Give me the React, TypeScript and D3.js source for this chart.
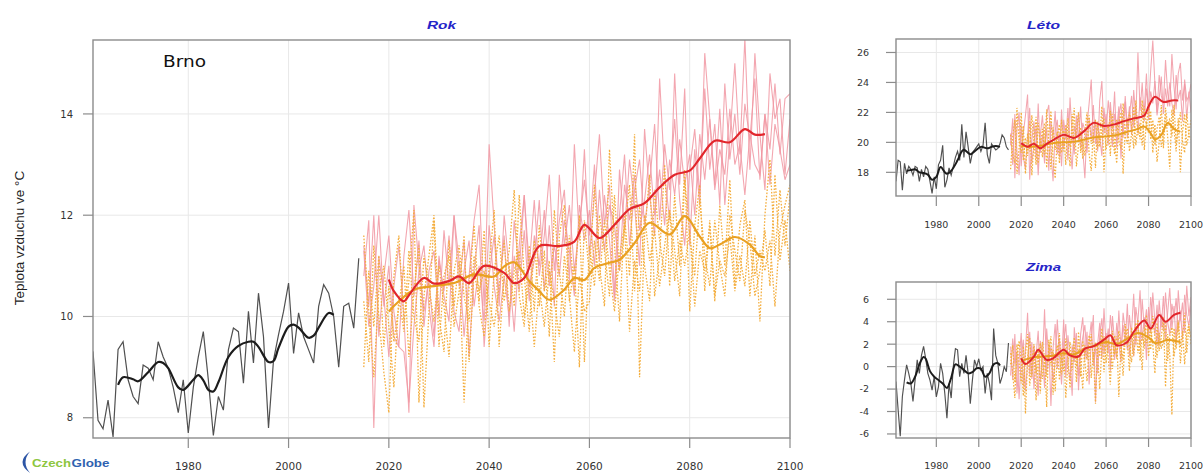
import React from 'react';
import * as d3 from 'd3';

type Pt = [number, number];

const OBS_START = 1961;
const PROJ_START = 2015;
const X_DOMAIN: [number, number] = [1961, 2100];
const X_TICKS = [1980, 2000, 2020, 2040, 2060, 2080, 2100];

// ---------- Rok (annual mean) ----------
const rokObs = [
  9.31, 7.95, 7.78, 8.35, 7.62, 9.35, 9.5, 8.75, 8.42, 8.28,
  9.04, 8.98, 8.75, 9.5, 9.2, 8.98, 8.6, 8.1, 8.75, 7.7,
  8.6, 9.2, 9.7, 8.75, 7.65, 8.42, 8.15, 9.34, 9.77, 9.7,
  8.68, 10.1, 9.08, 10.46, 9.6, 7.8, 9.14, 9.64, 10.1, 10.66,
  9.27, 10.07, 9.6, 9.34, 9.08, 10.2, 10.63, 10.46, 10.0, 9.0,
  10.2, 10.26, 9.77, 11.15,
];
const rokObsSmooth: Pt[] = [
  [1966, 8.65], [1967, 8.8], [1969, 8.76], [1970, 8.72], [1972, 8.9], [1974, 9.1], [1975, 9.08],
  [1976, 8.98], [1978, 8.6], [1979, 8.55], [1981, 8.75], [1982, 8.84], [1983, 8.74], [1984, 8.55],
  [1985, 8.52], [1986, 8.7], [1988, 9.2], [1990, 9.42], [1992, 9.5], [1993, 9.5], [1994, 9.4],
  [1996, 9.1], [1997, 9.12], [1998, 9.38], [2000, 9.8], [2001, 9.84], [2002, 9.78], [2004, 9.58],
  [2005, 9.62], [2006, 9.78], [2008, 10.07], [2009, 10.03],
];
const rokPink1 = [
  11.4, 10.2, 12.0, 9.6, 10.8,
  11.6, 10.1, 9.4, 11.2, 12.1, 10.4, 11.5, 9.8, 10.9, 11.3,
  10.0, 11.7, 10.6, 12.0, 11.1, 9.6, 10.8, 11.9, 12.6, 10.2,
  13.4, 11.8, 10.4, 11.6, 9.8, 11.9, 10.9, 12.4, 11.0, 12.3,
  10.8, 11.6, 12.8, 10.9, 11.9, 12.5, 10.7, 13.4, 11.5, 13.3,
  11.2, 12.4, 13.6, 11.8, 12.6, 10.4, 12.9, 11.7, 13.1, 12.2,
  11.0, 13.7, 12.4, 11.6, 14.7, 12.8, 11.9, 14.8, 12.6, 14.5,
  11.4, 13.3, 12.2, 15.2, 13.9, 12.6, 14.1, 12.2, 13.5, 15.0,
  13.2, 15.5, 12.9, 15.2, 13.6, 12.5, 14.8, 13.9, 14.3, 12.8,
  13.9,
];
const rokPink2 = [
  10.8, 11.9, 7.8, 11.2, 10.4,
  9.2, 10.6, 11.4, 10.0, 8.1, 12.2, 11.0, 10.1, 10.7, 9.6,
  11.2, 10.4, 9.9, 12.0, 10.6, 11.5, 9.2, 10.9, 11.8, 9.4,
  10.8, 11.6, 10.2, 12.0, 10.9, 9.7, 11.4, 12.4, 10.6, 11.1,
  12.3, 10.5, 11.8, 10.2, 12.8, 11.4, 12.2, 10.9, 11.8, 12.7,
  11.6, 13.0, 11.1, 12.4, 11.5, 10.3, 12.0, 13.2, 11.4, 12.5,
  13.1, 11.8, 12.6, 13.8, 11.9, 13.4, 12.5, 13.9, 12.3, 11.4,
  12.9, 13.7, 12.4, 14.5, 12.9, 13.8, 12.2, 14.6, 13.1, 14.0,
  12.8, 14.2, 13.5, 14.7, 12.7, 14.0, 13.3, 14.6, 13.2, 14.3,
  14.4,
];
const rokPink3 = [
  11.3, 9.8, 10.6, 12.0, 10.2,
  11.0, 9.6, 9.4, 9.3, 8.3, 9.8, 10.9, 11.4, 10.2, 9.4,
  11.1, 10.5, 11.6, 10.1, 9.7, 10.9, 11.5, 10.2, 11.0, 9.9,
  11.8, 10.6, 9.9, 10.8, 10.0, 11.2, 10.5, 11.7, 10.3, 11.6,
  11.0, 12.1, 10.6, 11.4, 10.8, 11.9, 11.3, 10.4, 12.2, 11.5,
  12.1, 11.0, 12.5, 11.3, 12.2, 11.8, 10.9, 12.6, 11.9, 12.8,
  11.7, 12.3, 13.2, 12.0, 12.9, 11.8, 13.1, 12.4, 13.5, 12.6,
  13.2, 12.0, 13.6, 12.7, 13.9, 12.5, 13.3, 12.8, 14.1, 13.0,
  13.4, 12.4, 13.6, 13.0, 12.8, 14.0, 12.6, 13.8, 13.3, 12.7,
  13.0,
];
const rokOrange1 = [
  10.3, 9.1, 11.4, 10.0, 8.9,
  8.1, 10.8, 11.6, 9.9, 10.7, 12.1, 8.3, 10.4, 11.2, 12.0,
  10.0, 9.3, 11.5, 10.2, 11.1, 8.3, 10.6, 11.8, 10.2, 9.6,
  11.0, 12.1, 9.4, 10.8, 11.3, 12.5, 10.4, 9.8, 11.4, 10.1,
  11.8, 10.5, 11.1, 9.1, 11.6, 12.2, 10.3, 11.0, 9.0, 11.9,
  10.8, 12.6, 11.0, 10.2, 13.3, 11.4, 9.9, 12.0, 10.8, 13.6,
  8.8, 11.6, 12.8, 10.4, 11.2, 13.0, 10.6, 12.4, 11.0, 12.9,
  10.1, 11.8, 12.6, 10.5, 11.9, 10.3, 12.2, 11.0, 12.7, 10.6,
  11.8, 12.3, 10.4, 11.6, 9.9, 12.0, 13.1, 11.2, 12.5, 11.4,
  12.4,
];
const rokOrange2 = [
  9.0, 10.9, 9.8, 11.2, 9.4,
  10.6, 9.5, 10.2, 11.0, 9.2, 10.5, 11.4, 8.2, 10.1, 11.9,
  9.4, 10.8, 11.2, 9.8, 10.5, 11.6, 9.1, 10.9, 10.3, 11.7,
  9.4, 10.9, 11.6, 10.3, 11.0, 10.2, 12.4, 10.8, 9.7, 11.5,
  10.2, 11.3, 9.6, 12.1, 10.9, 10.0, 11.6, 10.5, 12.0, 9.1,
  11.4, 10.6, 12.0, 11.3, 10.4, 12.4, 10.9, 11.7, 12.6, 10.5,
  12.2, 11.0, 10.3, 12.5, 11.5, 10.8, 12.1, 11.3, 10.4, 12.7,
  11.6, 10.8, 12.3, 11.2, 10.6, 11.9, 11.0, 10.4, 12.0, 11.3,
  10.7, 12.1, 11.5, 10.4, 10.9, 11.7, 10.6, 12.8, 11.1, 11.9,
  10.9,
];
const rokOrange3 = [
  11.6, 10.1, 8.8, 10.5, 11.0,
  9.8, 8.6, 10.4, 9.7, 11.3, 10.0, 9.5, 11.2, 10.6, 9.9,
  11.0, 10.2, 9.2, 10.9, 11.4, 10.4, 9.9, 11.2, 10.5, 10.9,
  10.3, 9.8, 10.6, 11.5, 10.1, 10.9, 11.3, 10.0, 10.7, 9.4,
  10.6, 9.8, 10.9, 10.3, 9.6, 11.2, 10.4, 9.3, 10.8, 10.1,
  10.3, 11.5, 10.7, 11.9, 10.9, 10.1, 11.2, 11.8, 9.7, 11.1,
  10.5, 12.0, 11.1, 11.7, 10.6, 11.4, 12.1, 10.7, 11.5, 11.0,
  11.7, 10.2, 11.3, 10.9, 11.8, 10.4, 11.1, 10.8, 11.6, 10.5,
  11.2, 10.6, 11.9, 10.8, 11.3, 10.9, 11.5, 10.2, 11.7, 12.2,
  12.6,
];
const rokRedSmooth: Pt[] = [
  [2020, 10.73], [2021, 10.5], [2023, 10.3], [2024, 10.42], [2027, 10.76], [2029, 10.65], [2032, 10.7],
  [2034, 10.79], [2036, 10.66], [2039, 11.0], [2043, 10.86], [2045, 10.66], [2047, 10.76], [2050, 11.39],
  [2054, 11.39], [2057, 11.48], [2059, 11.81], [2062, 11.55], [2065, 11.81], [2068, 12.12], [2071, 12.24],
  [2074, 12.55], [2077, 12.8], [2080, 12.88], [2082, 13.12], [2085, 13.47], [2088, 13.44], [2091, 13.7],
  [2093, 13.59], [2095, 13.6],
];
const rokOrangeSmooth: Pt[] = [
  [2020, 10.1], [2022, 10.3], [2025, 10.53], [2029, 10.6], [2033, 10.66], [2037, 10.83], [2041, 10.79],
  [2043, 10.99], [2045, 11.07], [2048, 10.7], [2050, 10.5], [2052, 10.33], [2055, 10.53], [2057, 10.76],
  [2059, 10.72], [2061, 10.96], [2064, 11.06], [2066, 11.12], [2069, 11.45], [2072, 11.85], [2076, 11.62],
  [2079, 11.98], [2082, 11.58], [2084, 11.35], [2086, 11.42], [2089, 11.57], [2092, 11.42], [2094, 11.19],
  [2095, 11.17],
];

// ---------- Léto (summer) ----------
const letoObs = [
  17.4, 18.8, 18.7, 16.8, 18.6, 17.9, 18.4, 18.2, 17.8, 18.4,
  18.3, 17.4, 18.2, 17.7, 18.4, 18.2, 17.4, 16.6, 17.7, 16.9,
  18.5, 18.8, 19.8, 17.0, 17.5, 18.3, 17.8, 18.4, 19.0, 19.4,
  18.8, 21.2, 19.0, 20.7, 19.7, 18.6, 19.3, 19.5, 19.7, 19.9,
  19.4, 19.8, 21.3, 19.2, 18.6, 19.9, 19.7, 19.5, 19.6, 19.9,
  20.5, 20.3, 19.7, 19.5,
];
const letoObsSmooth: Pt[] = [
  [1966, 18.1], [1968, 18.15], [1970, 18.2], [1972, 18.0], [1974, 17.95], [1976, 17.85], [1978, 17.5],
  [1980, 17.7], [1982, 18.35], [1984, 18.0], [1985, 17.9], [1987, 18.1], [1990, 18.8], [1992, 19.4],
  [1993, 19.5], [1995, 19.3], [1996, 19.2], [1998, 19.4], [2001, 19.7], [2004, 19.6], [2006, 19.7],
  [2008, 19.75], [2010, 19.7],
];
const letoPink1 = [
  19.8, 21.6, 17.6, 20.9, 22.0,
  18.4, 20.6, 21.8, 23.2, 17.5, 20.1, 21.4, 18.9, 22.6, 19.3,
  20.5, 18.6, 21.9, 22.5, 19.4, 17.4, 20.8, 21.5, 19.0, 22.2,
  19.6, 21.0, 18.8, 23.0, 20.4, 19.2, 21.8, 20.1, 22.4, 19.5,
  17.6, 21.2, 22.6, 24.2, 20.0, 21.5, 19.4, 22.8, 24.1, 20.6,
  21.9, 19.8, 22.7, 20.9, 23.4, 19.6, 21.8, 22.6, 20.3, 23.1,
  21.0, 22.4, 20.5, 23.5, 21.6, 26.0, 22.1, 24.0, 21.4, 23.6,
  22.3, 24.8, 26.8, 23.9, 22.0, 24.5, 23.1, 22.6, 25.5, 23.3,
  22.4, 25.9, 23.7, 22.2, 24.6, 25.3, 22.8, 23.9, 21.6, 23.4,
  22.0,
];
const letoPink2 = [
  20.6, 18.5, 21.9, 19.4, 17.8,
  21.2, 19.0, 18.2, 20.4, 22.3, 18.6, 19.9, 21.0, 17.8, 20.5,
  21.8, 19.6, 20.9, 18.1, 21.4, 20.3, 22.1, 19.2, 20.6, 18.4,
  21.5, 20.2, 22.3, 19.8, 18.2, 21.1, 20.4, 22.0, 19.6, 21.3,
  20.8, 19.3, 21.6, 20.2, 22.5, 19.9, 21.2, 20.4, 19.1, 22.3,
  20.6, 22.8, 21.4, 19.7, 21.9, 20.8, 22.4, 18.9, 21.6, 22.7,
  20.3, 21.8, 23.1, 21.0, 22.5, 20.6, 23.0, 21.7, 22.2, 24.6,
  21.5, 23.4, 22.6, 24.1, 21.8, 22.9, 24.4, 21.9, 23.6, 22.4,
  24.0, 22.6, 21.8, 24.5, 22.9, 23.5, 21.4, 24.2, 22.8, 23.1,
  23.9,
];
const letoOrange1 = [
  18.2, 20.4, 21.5, 17.9, 19.6,
  22.0, 18.8, 20.3, 19.1, 21.4, 17.8, 19.9, 21.7, 18.6, 20.2,
  19.0, 21.3, 18.3, 20.6, 22.1, 18.9, 17.6, 20.4, 21.2, 19.3,
  20.8, 18.5, 21.6, 19.7, 20.5, 22.3, 18.4, 19.8, 21.0, 18.9,
  20.7, 22.0, 19.2, 18.1, 20.9, 21.5, 19.6, 20.3, 22.4, 18.0,
  20.4, 21.2, 19.1, 21.9, 20.0, 18.6, 21.3, 22.0, 17.9, 20.8,
  21.6, 19.4, 20.6, 22.4, 19.8, 21.1, 20.2, 22.8, 19.5, 21.4,
  20.6, 22.1, 19.3, 21.2, 18.7, 20.0, 22.5, 19.6, 21.8, 20.4,
  18.2, 22.2, 20.9, 19.4, 21.6, 18.0, 20.7, 21.9, 19.8, 20.6,
  21.5,
];
const letoOrange2 = [
  20.5, 19.2, 18.6, 22.3, 20.1,
  19.3, 21.1, 17.9, 20.6, 19.4, 21.8, 20.0, 18.5, 21.3, 19.8,
  20.9, 19.2, 22.2, 19.9, 18.2, 21.0, 19.5, 20.7, 18.6, 21.5,
  19.4, 21.2, 20.1, 18.4, 21.9, 19.6, 20.8, 22.0, 19.3, 20.2,
  19.1, 20.6, 21.8, 19.9, 20.5, 18.3, 21.4, 19.7, 20.9, 21.6,
  19.5, 20.3, 22.1, 20.6, 19.2, 21.5, 20.1, 19.6, 22.6, 20.4,
  19.9, 22.0, 21.1, 19.6, 22.8, 20.5, 21.3, 19.8, 22.4, 21.0,
  22.6, 20.2, 21.5, 19.8, 20.9, 21.7, 19.7, 20.5, 22.3, 21.1,
  21.6, 20.4, 22.5, 19.9, 20.8, 22.0, 20.1, 19.3, 21.9, 20.5,
  20.2,
];
const letoRedSmooth: Pt[] = [
  [2020, 19.95], [2021, 19.85], [2023, 19.7], [2026, 19.9], [2029, 19.6], [2032, 19.9], [2035, 20.15],
  [2040, 20.5], [2045, 20.3], [2050, 20.8], [2054, 21.3], [2059, 21.1], [2064, 21.2], [2068, 21.4],
  [2073, 21.6], [2078, 21.8], [2080, 22.4], [2083, 23.05], [2087, 22.7], [2091, 22.8], [2094, 22.8],
];
const letoOrangeSmooth: Pt[] = [
  [2020, 19.75], [2025, 19.7], [2030, 19.8], [2035, 19.95], [2040, 20.0], [2045, 20.05], [2050, 20.2],
  [2055, 20.35], [2060, 20.4], [2065, 20.5], [2070, 20.7], [2075, 20.9], [2078, 21.05], [2081, 20.6],
  [2083, 20.2], [2086, 20.5], [2089, 21.3], [2092, 20.9], [2095, 20.7],
];

// ---------- Zima (winter) ----------
const zimaObs = [
  -1.33, -3.84, -6.2, -2.66, -1.18, 0.15, -0.6, -1.5, -3.1, -1.2,
  0.6, -0.6, 1.0, 1.8, 0.7, -0.6, -1.2, -2.1, -0.9, -2.7,
  -1.8, 0.3, -0.6, -2.4, -4.6, -1.5, -2.8, 0.0, 1.6, 1.5,
  -0.9, 0.3, -0.6, 1.0, -0.6, -3.3, -1.2, 0.6, 0.0, 0.7,
  -0.3, 0.0, -2.4, -0.6, -1.5, -3.0, 3.4, 1.0, 0.3, -1.5,
  -0.9, 0.0, -0.45, 2.1,
];
const zimaObsSmooth: Pt[] = [
  [1966, -1.4], [1968, -1.5], [1970, -0.9], [1972, 0.2], [1974, 0.85], [1975, 0.7], [1977, -0.4],
  [1979, -0.9], [1981, -1.2], [1983, -1.5], [1985, -1.9], [1987, -1.0], [1989, 0.2], [1991, 0.0],
  [1993, -0.3], [1995, -0.6], [1997, -0.5], [1999, -0.15], [2001, -0.2], [2003, -0.9], [2005, -0.6],
  [2007, 0.2], [2009, 0.3], [2010, 0.1],
];
const zimaPink1 = [
  1.8, -1.2, 2.9, -2.4, 0.6,
  3.0, -1.8, 1.5, 4.8, -0.8, 2.2, -2.0, 1.0, 3.2, -1.4,
  0.4, 5.1, -0.5, 2.0, -3.5, 1.6, 3.8, -0.2, 2.5, 0.3,
  4.2, -1.0, 2.8, 0.9, -2.6, 3.5, 1.2, -0.8, 2.9, 4.4,
  0.6, 3.1, -1.6, 2.4, 4.6, -3.2, 2.0, 3.9, 0.7, 5.2,
  1.8, 3.4, -0.4, 4.5, 2.2, 0.8, 5.0, 1.6, 3.7, 2.0,
  5.6, 0.9, 3.2, 6.5, 1.9, 4.1, 6.8, 2.3, 4.4, 0.6,
  5.3, 3.0, 6.6, 4.0, 1.8, 5.9, 3.5, 6.3, 2.4, 4.8,
  7.0, 3.3, 5.4, 2.0, 6.8, 4.1, 5.7, 3.0, 7.2, 4.5,
  6.2,
];
const zimaPink2 = [
  -0.8, 2.5, 0.2, 1.4, -2.9,
  0.9, 2.4, -2.2, 0.4, 3.1, -1.1, 1.9, 0.0, -2.6, 2.3,
  1.2, -1.9, 3.4, 0.6, 1.8, -1.3, 0.5, 4.2, 1.0, -1.6,
  2.1, 3.8, 0.2, -1.2, 1.9, 0.4, 3.0, -2.1, 1.4, 2.6,
  3.7, 0.8, 2.3, 4.0, 0.1, 1.7, -0.6, 2.8, 4.3, 1.1,
  3.0, 1.2, 4.6, 2.5, 0.6, 3.9, 2.1, 0.4, 4.8, 3.2,
  1.5, 4.6, 2.6, 0.9, 5.3, 3.8, 2.0, 6.0, 3.4, 5.1,
  2.6, 6.2, 4.2, 2.9, 5.5, 1.9, 4.7, 3.2, 6.6, 4.0,
  2.8, 5.6, 4.3, 6.1, 3.1, 5.0, 2.4, 6.4, 4.6, 3.6,
  5.4,
];
const zimaOrange1 = [
  1.2, -0.6, -2.8, 2.0, 0.3,
  -1.5, 1.8, -4.2, 0.7, 2.6, -0.9, 1.3, -3.0, 0.5, 2.1,
  -1.1, 0.9, -3.6, 2.4, 0.1, 1.5, -2.2, 0.8, 3.0, -0.7,
  1.6, -2.8, 0.4, 2.2, -0.3, 1.8, -1.4, 3.1, 0.2, -2.0,
  1.9, 0.6, 2.8, -1.0, 1.3, -3.3, 2.0, 0.9, 3.4, -0.5,
  2.5, 0.8, -1.6, 3.2, 1.1, 2.7, -2.7, 1.9, 0.6, 3.8,
  2.2, -0.4, 3.5, 1.0, 2.8, 4.2, 0.5, 3.1, 1.6, 4.6,
  0.9, 3.3, 2.0, -0.6, 3.9, 1.4, 2.6, 4.4, -1.8, 2.9,
  1.0, -4.3, 3.4, 1.6, 4.0, 0.3, 2.5, 4.8, 1.2, 3.6,
  2.6,
];
const zimaOrange2 = [
  0.2, 1.9, -1.4, 0.8, 2.3,
  0.5, -2.6, 1.1, 2.9, -1.7, 0.3, 2.0, -0.6, 1.6, -2.4,
  2.2, 0.7, -0.9, 1.3, 2.7, -2.5, 0.6, 1.9, -1.2, 1.1,
  -0.4, 2.5, 0.8, -1.9, 1.0, 2.6, 0.0, 1.5, -0.9, 2.3,
  0.4, -1.3, 1.4, 2.9, 0.5, 2.2, 1.0, -2.0, 1.8, 2.7,
  0.3, 2.4, 1.5, -0.2, 2.8, 0.7, 3.2, 1.8, -0.8, 2.5,
  3.4, 1.6, 0.4, 2.7, 3.9, 1.2, 2.4, -0.3, 3.5, 2.1,
  3.7, 1.5, 4.5, 2.6, 0.8, 3.0, 1.6, 2.2, 3.9, 0.5,
  2.7, 3.5, 0.9, 2.4, 4.1, 1.7, 3.2, 0.2, 2.9, 3.8,
  1.9,
];
const zimaRedSmooth: Pt[] = [
  [2020, 0.74], [2022, 0.24], [2026, 0.9], [2028, 1.5], [2032, 0.6], [2035, 0.74], [2040, 1.5],
  [2043, 1.0], [2047, 0.9], [2050, 1.6], [2054, 1.8], [2059, 2.4], [2062, 2.8], [2065, 1.9],
  [2070, 2.2], [2073, 3.1], [2078, 4.1], [2081, 3.4], [2085, 4.6], [2088, 4.0], [2092, 4.6], [2095, 4.8],
];
const zimaOrangeSmooth: Pt[] = [
  [2020, 0.5], [2025, 0.8], [2030, 0.9], [2035, 1.0], [2040, 1.2], [2045, 1.1], [2050, 1.6],
  [2055, 1.9], [2060, 2.2], [2065, 2.0], [2070, 2.5], [2075, 3.0], [2080, 2.6], [2083, 2.1],
  [2086, 2.2], [2089, 2.4], [2092, 2.3], [2095, 2.2],
];

const PINK = '#f197a2';
const ORANGE = '#f4ae3e';
const RED = '#e2262c';
const ORANGE_SMOOTH = '#e9a021';
const TICK_FONT = '"DejaVu Sans", sans-serif';

interface PanelProps {
  id: string;
  left: number; right: number; top: number; bottom: number;
  yDomain: [number, number];
  yTicks: number[];
  title: string; titleLen: number; titleY: number;
  obs: number[]; obsSmooth: Pt[];
  pinks: number[][]; oranges: number[][];
  redSmooth: Pt[]; orangeSmooth: Pt[];
  xLabelY: number; yLabelX: number;
  xFont: number; yFont: number; tickLen: number;
  thin: number; thick: number;
}

const Panel = (p: PanelProps) => {
  const x = d3.scaleLinear().domain(X_DOMAIN).range([p.left, p.right]);
  const y = d3.scaleLinear().domain(p.yDomain).range([p.bottom, p.top]);
  const annual = (start: number) =>
    d3.line<number>().x((_, i) => x(start + i)).y(d => y(d));
  const smooth = d3.line<Pt>().x(d => x(d[0])).y(d => y(d[1])).curve(d3.curveCatmullRom.alpha(0.5));
  const cx = (p.left + p.right) / 2;

  return (
    <g>
      <defs>
        <clipPath id={p.id}>
          <rect x={p.left} y={p.top} width={p.right - p.left} height={p.bottom - p.top} />
        </clipPath>
      </defs>
      <text x={cx} y={p.titleY} textAnchor="middle" fontFamily='"Liberation Sans", Arial, sans-serif'
        fontWeight="bold" fontStyle="italic" fontSize={11} fill="#2424c8"
        textLength={p.titleLen} lengthAdjust="spacingAndGlyphs">{p.title}</text>
      {/* grid */}
      <g stroke="#e8e8e8" strokeWidth={1}>
        {X_TICKS.map(t => <line key={'gx' + t} x1={x(t)} x2={x(t)} y1={p.top} y2={p.bottom} />)}
        {p.yTicks.map(t => <line key={'gy' + t} x1={p.left} x2={p.right} y1={y(t)} y2={y(t)} />)}
      </g>
      <g clipPath={`url(#${p.id})`} fill="none">
        {p.pinks.map((s, i) => (
          <path key={'p' + i} d={annual(PROJ_START)(s) || ''} stroke={PINK} strokeWidth={p.thin} strokeOpacity={0.85} />
        ))}
        {p.oranges.map((s, i) => (
          <path key={'o' + i} d={annual(PROJ_START)(s) || ''} stroke={ORANGE} strokeWidth={p.thin + 0.2}
            strokeDasharray="1.6 1.6" />
        ))}
        <path d={annual(OBS_START)(p.obs) || ''} stroke="#505050" strokeWidth={p.thin + 0.1} />
        <path d={smooth(p.obsSmooth) || ''} stroke="#1c1c1c" strokeWidth={p.thick} />
        <path d={smooth(p.orangeSmooth) || ''} stroke={ORANGE_SMOOTH} strokeWidth={p.thick} />
        <path d={smooth(p.redSmooth) || ''} stroke={RED} strokeWidth={p.thick} />
      </g>
      <rect x={p.left} y={p.top} width={p.right - p.left} height={p.bottom - p.top}
        fill="none" stroke="#8c8c8c" strokeWidth={1.4} />
      {/* axes */}
      <g stroke="#8c8c8c" strokeWidth={1.2}>
        {X_TICKS.map(t => <line key={'tx' + t} x1={x(t)} x2={x(t)} y1={p.bottom} y2={p.bottom + p.tickLen} />)}
        {p.yTicks.map(t => <line key={'ty' + t} x1={p.left - p.tickLen} x2={p.left} y1={y(t)} y2={y(t)} />)}
      </g>
      <g fontFamily={TICK_FONT} fill="#333">
        {X_TICKS.map(t => (
          <text key={'lx' + t} x={x(t)} y={p.xLabelY} textAnchor="middle" fontSize={p.xFont}>{t}</text>
        ))}
        {p.yTicks.map(t => (
          <text key={'ly' + t} x={p.yLabelX} y={y(t)} dy="0.36em" textAnchor="end" fontSize={p.yFont}>{t}</text>
        ))}
      </g>
    </g>
  );
};

const App = () => {
  return (
    <svg width={1204} height={475} style={{ position: 'absolute', left: 0, top: 0, background: '#fff' }}>
      <rect x={0} y={0} width={1204} height={475} fill="#fff" />
      <Panel id="clip-rok" left={93} right={790} top={40} bottom={438}
        yDomain={[7.6, 15.46]} yTicks={[8, 10, 12, 14]}
        title="Rok" titleLen={29} titleY={29}
        obs={rokObs} obsSmooth={rokObsSmooth}
        pinks={[rokPink1, rokPink2, rokPink3]} oranges={[rokOrange1, rokOrange2, rokOrange3]}
        redSmooth={rokRedSmooth} orangeSmooth={rokOrangeSmooth}
        xLabelY={470} yLabelX={73} xFont={10.5} yFont={10} tickLen={10}
        thin={1.1} thick={2.2} />
      <Panel id="clip-leto" left={896} right={1191} top={39} bottom={196}
        yDomain={[16.42, 26.9]} yTicks={[18, 20, 22, 24, 26]}
        title="Léto" titleLen={33} titleY={29}
        obs={letoObs} obsSmooth={letoObsSmooth}
        pinks={[letoPink1, letoPink2]} oranges={[letoOrange1, letoOrange2]}
        redSmooth={letoRedSmooth} orangeSmooth={letoOrangeSmooth}
        xLabelY={228} yLabelX={869} xFont={9.5} yFont={9.5} tickLen={10}
        thin={1.05} thick={2} />
      <Panel id="clip-zima" left={896} right={1191} top={282} bottom={438}
        yDomain={[-6.36, 7.54]} yTicks={[-6, -4, -2, 0, 2, 4, 6]}
        title="Zima" titleLen={35} titleY={271}
        obs={zimaObs} obsSmooth={zimaObsSmooth}
        pinks={[zimaPink1, zimaPink2]} oranges={[zimaOrange1, zimaOrange2]}
        redSmooth={zimaRedSmooth} orangeSmooth={zimaOrangeSmooth}
        xLabelY={468.5} yLabelX={869} xFont={9.5} yFont={9.5} tickLen={9}
        thin={1.05} thick={2} />
      <text x={163} y={66.5} fontFamily={TICK_FONT} fontSize={16} fill="#111"
        textLength={43} lengthAdjust="spacingAndGlyphs">Brno</text>
      <text transform="translate(24,238) rotate(-90)" textAnchor="middle"
        fontFamily='"Liberation Sans", Arial, sans-serif' fontSize={13.5} fill="#222">Teplota vzduchu ve °C</text>
      {/* CzechGlobe logo */}
      <path d="M30,451.5 Q15,462 30,473 Q21,462 30,451.5 Z" fill="#2d55a5" />
      <text y={467} fontFamily='"Liberation Sans", Arial, sans-serif' fontWeight="bold" fontSize={10.5}>
        <tspan x={32} fill="#8dc63f" textLength={39} lengthAdjust="spacingAndGlyphs">Czech</tspan>
        <tspan x={71.5} fill="#2f62b0" textLength={38} lengthAdjust="spacingAndGlyphs">Globe</tspan>
      </text>
    </svg>
  );
};

export default App;
